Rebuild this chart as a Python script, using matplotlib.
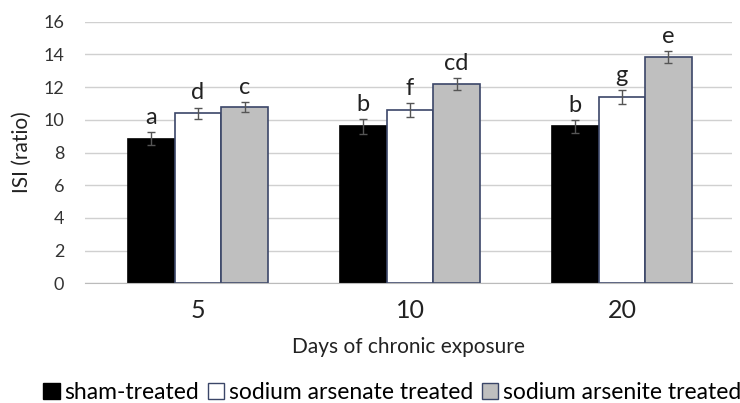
import numpy as np
import matplotlib
matplotlib.use("Agg")
import matplotlib.pyplot as plt
from matplotlib.patches import Patch

plt.rcParams['font.family'] = ['Lato', 'DejaVu Sans']

days = ["5", "10", "20"]
series = ["sham-treated", "sodium arsenate treated", "sodium arsenite treated"]
sham = [8.85, 9.6, 9.6]
arsenate = [10.4, 10.6, 11.4]
arsenite = [10.8, 12.2, 13.85]
sham_err = [0.4, 0.45, 0.4]
arsenate_err = [0.35, 0.4, 0.45]
arsenite_err = [0.3, 0.35, 0.35]
letters = [["a", "b", "b"], ["d", "f", "g"], ["c", "cd", "e"]]

values = [sham, arsenate, arsenite]
errors = [sham_err, arsenate_err, arsenite_err]
fills = ["#000000", "#FFFFFF", "#BFBFBF"]
edges = ["#000000", "#3B4668", "#3B4668"]

fig = plt.figure(figsize=(7.4, 4.03), dpi=100)
ax = fig.add_axes([0.115, 0.297, 0.874, 0.649])

x = np.arange(len(days))
w = 0.22
for i in range(3):
    pos = x + (i - 1) * w
    ax.bar(pos, values[i], w, color=fills[i], edgecolor=edges[i], linewidth=1.2, zorder=3)
    ax.errorbar(pos, values[i], yerr=errors[i], fmt='none', ecolor='#555555',
                elinewidth=1, capsize=3, capthick=1, zorder=4)
    for j in range(len(days)):
        ax.text(pos[j], values[i][j] + errors[i][j] + 0.25, letters[i][j],
                ha='center', va='bottom', fontsize=17, color='#222222')

ax.set_xlim(-0.533, 2.519)
ax.set_ylim(0, 16)
ax.set_yticks(range(0, 17, 2))
ax.set_xticks(x)
ax.set_xticklabels(days, fontsize=18, color='#222222')
ax.tick_params(axis='y', length=0, labelsize=13, labelcolor='#333333', pad=15)
ax.tick_params(axis='x', length=0, pad=11)
ax.grid(axis='y', color='#D0D0D0', linewidth=1, zorder=0)
for s in ['top', 'right', 'left']:
    ax.spines[s].set_visible(False)
ax.spines['bottom'].set_color('#BBBBBB')
ax.spines['bottom'].set_zorder(5)

ax.set_ylabel("ISI (ratio)", fontsize=15, color='#222222', labelpad=8)
ax.set_xlabel("Days of chronic exposure", fontsize=15, color='#222222', labelpad=11)

handles = [Patch(facecolor=fills[i], edgecolor=edges[i], label=series[i]) for i in range(3)]
fig.legend(handles=handles, loc='center', bbox_to_anchor=(0.53, 0.027), ncol=3,
           frameon=False, fontsize=16.5, handlelength=0.7, handleheight=0.7,
           handletextpad=0.2, columnspacing=0.4, borderpad=0)

fig.savefig("out.png", dpi=100)
